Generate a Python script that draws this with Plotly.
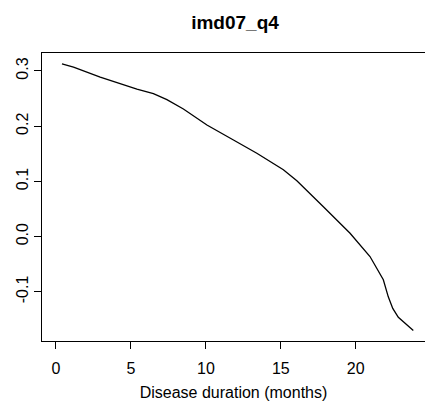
import plotly.graph_objects as go

# Data
duration = [0.4, 1.17, 2.95, 5.4, 6.5, 7.4, 8.5, 10.07, 11.84, 13.4, 15.17, 16.07,
             17.84, 19.62, 20.95, 21.84, 22.17, 22.47, 22.84, 23.84]
effect = [0.313, 0.307, 0.289, 0.267, 0.259, 0.248, 0.231, 0.202, 0.175, 0.151, 0.121, 0.101,
          0.054, 0.006, -0.036, -0.078, -0.109, -0.130, -0.146, -0.170]
x_ticks = [0, 5, 10, 15, 20]
y_ticks = [-0.1, 0.0, 0.1, 0.2, 0.3]
y_tick_labels = ["-0.1", "0.0", "0.1", "0.2", "0.3"]

FONT = "Liberation Sans, Arial, Helvetica, sans-serif"

fig = go.Figure()
fig.add_trace(go.Scatter(x=duration, y=effect, mode="lines",
                         line=dict(color="black", width=1.3), showlegend=False,
                         hoverinfo="skip"))

fig.update_layout(
    width=425, height=405,
    margin=dict(l=42, r=0, t=53, b=64),
    paper_bgcolor="white", plot_bgcolor="white",
    font=dict(family=FONT, size=16, color="black"),
    title=dict(text="<b>imd07_q4</b>", x=0.553, xanchor="center",
               y=1 - 22 / 405, yanchor="middle", yref="container",
               font=dict(size=19, family=FONT, color="black")),
    xaxis=dict(range=[-0.933, 24.62], tickvals=x_ticks, ticks="outside", ticklen=7,
               tickcolor="black", tickwidth=1, showline=True, linecolor="black",
               linewidth=1, mirror=True, showgrid=False, zeroline=False,
               ticklabelstandoff=6,
               title=dict(text="Disease duration (months)", standoff=10,
                          font=dict(size=16))),
    yaxis=dict(range=[-0.189, 0.3325], tickvals=y_ticks, ticktext=y_tick_labels,
               ticks="outside", ticklen=7, tickcolor="black", tickwidth=1,
               showline=True, linecolor="black", linewidth=1, mirror=False,
               showgrid=False, zeroline=False, tickangle=-90),
)

fig.write_html("out.html")
